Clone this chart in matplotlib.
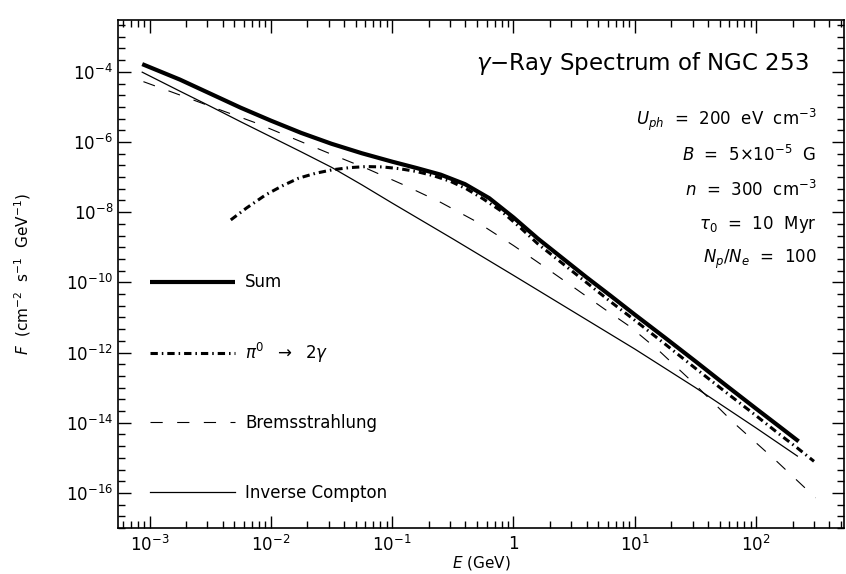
import numpy as np
import matplotlib
matplotlib.use("Agg")
from matplotlib import pyplot as plt
from matplotlib import transforms
from matplotlib.legend import Legend
from matplotlib.ticker import FixedLocator, NullFormatter

plt.rcParams['font.family'] = ['DejaVu Sans']
plt.rcParams['mathtext.fontset'] = 'dejavusans'

# curves, log10(E/GeV) and log10(F)
SUM_LOGE = [-3.06, -2.75, -2.5, -2.25, -2.0, -1.75, -1.5, -1.25, -1.0, -0.8, -0.6, -0.4,
            -0.2, 0.0, 0.2, 0.4, 0.6, 0.8, 1.0, 1.25, 1.5, 1.75, 2.0, 2.2, 2.35]
SUM_LOGF = [-3.78, -4.22, -4.62, -5.02, -5.39, -5.74, -6.05, -6.32, -6.56, -6.74, -6.93, -7.2,
            -7.6, -8.15, -8.75, -9.3, -9.85, -10.38, -10.92, -11.58, -12.25, -12.93, -13.6, -14.13, -14.53]

PI0_LOGE = [-2.33, -2.2, -2.04, -1.9, -1.77, -1.63, -1.49, -1.35, -1.215, -1.08, -0.94, -0.8,
            -0.66, -0.52, -0.39, -0.25, -0.1, 0.05, 0.2, 0.4, 0.6, 0.8, 1.0, 1.25, 1.5, 1.75,
            2.0, 2.2, 2.34, 2.477]
PI0_LOGF = [-8.22, -7.88, -7.50, -7.24, -7.03, -6.89, -6.79, -6.73, -6.70, -6.71, -6.76, -6.84,
            -6.96, -7.12, -7.33, -7.62, -7.97, -8.42, -8.9, -9.45, -10.0, -10.55, -11.08, -11.76,
            -12.45, -13.13, -13.8, -14.35, -14.72, -15.1]

BREMS_LOGE = [-3.05, -2.75, -2.5, -2.12, -1.8, -1.5, -1.2, -0.9, -0.6, -0.3, 0.0, 0.19,
              0.5, 0.75, 0.96, 1.2, 1.485, 1.815, 2.17, 2.49]
BREMS_LOGF = [-4.28, -4.66, -4.98, -5.46, -5.92, -6.35, -6.77, -7.23, -7.72, -8.28, -8.95, -9.40,
              -10.15, -10.76, -11.26, -11.95, -12.87, -14.0, -15.10, -16.14]

IC_LOGE = [-3.06, -2.75, -2.5, -2.25, -2.0, -1.75, -1.5, -1.25, -1.0, -0.5, 0.0, 0.5,
           1.0, 1.5, 2.0, 2.34]
IC_LOGF = [-4.01, -4.55, -4.98, -5.42, -5.85, -6.28, -6.72, -7.22, -7.74, -8.76, -9.8, -10.85,
           -11.9, -13.0, -14.15, -14.95]

XTICKS = [1e-3, 1e-2, 1e-1, 1, 10, 100]
XLABELS = [r"$10^{-3}$", r"$10^{-2}$", r"$10^{-1}$", "1", r"$10^{1}$", r"$10^{2}$"]
YTICKS = [1e-4, 1e-6, 1e-8, 1e-10, 1e-12, 1e-14, 1e-16]
YLABELS = [r"$10^{-4}$", r"$10^{-6}$", r"$10^{-8}$", r"$10^{-10}$",
           r"$10^{-12}$", r"$10^{-14}$", r"$10^{-16}$"]

PARAMS = [r"$U_{ph}$  =  200  eV  cm$^{-3}$",
          r"$B$  =  5$\times$10$^{-5}$  G",
          r"$n$  =  300  cm$^{-3}$",
          r"$\tau_0$  =  10  Myr",
          r"$N_p/N_e$  =  100"]

LEGEND_LABELS = ["Sum", r"$\pi^0$  $\rightarrow$  2$\gamma$", "Bremsstrahlung", "Inverse Compton"]
LEGEND_ROWS = [1e-10, 1e-12, 1e-14, 1e-16]

fig = plt.figure(figsize=(8.46, 5.74), dpi=100)
ax = fig.add_axes([118 / 846, 1 - 528 / 574, 726 / 846, 508 / 574])


def pw(le, lf):
    return 10.0 ** np.array(le), 10.0 ** np.array(lf)


lines = []
x, y = pw(SUM_LOGE, SUM_LOGF)
lines += ax.plot(x, y, color="black", lw=3.0, solid_capstyle="butt")
x, y = pw(PI0_LOGE, PI0_LOGF)
lines += ax.plot(x, y, color="black", lw=2.2, dashes=(2.4, 1.3, 0.5, 1.3))
x, y = pw(BREMS_LOGE, BREMS_LOGF)
lines += ax.plot(x, y, color="black", lw=0.8, dashes=(11, 13))
x, y = pw(IC_LOGE, IC_LOGF)
lines += ax.plot(x, y, color="black", lw=0.9)

ax.set_xscale("log")
ax.set_yscale("log")
ax.set_xlim(5.5e-4, 5.3e2)
ax.set_ylim(1e-17, 3.0e-3)

ax.xaxis.set_major_locator(FixedLocator(XTICKS))
ax.set_xticklabels(XLABELS)
ax.yaxis.set_major_locator(FixedLocator(YTICKS))
ax.set_yticklabels(YLABELS)
ax.xaxis.set_minor_locator(FixedLocator(
    [m * 10.0 ** d for d in range(-4, 3) for m in range(2, 10)]))
ax.yaxis.set_minor_locator(FixedLocator(10.0 ** np.arange(-17, -2.4, 1 / 3)))
ax.xaxis.set_minor_formatter(NullFormatter())
ax.yaxis.set_minor_formatter(NullFormatter())
ax.tick_params(which="both", direction="in", top=True, right=True, labelsize=12, color="black")
ax.tick_params(which="major", length=9, width=1)
ax.tick_params(which="minor", length=5, width=1)
ax.tick_params(axis="x", pad=5)
for s in ax.spines.values():
    s.set_linewidth(1.2)

ax.set_xlabel(r"$E$ (GeV)", fontsize=11, labelpad=-1)
ax.set_ylabel(r"$F$  (cm$^{-2}$  s$^{-1}$  GeV$^{-1}$)", fontsize=11, labelpad=24)

ax.text(0.952, 0.914, r"$\gamma$$-$Ray Spectrum of NGC 253", transform=ax.transAxes,
        ha="right", va="center", fontsize=16.5)
for i, p in enumerate(PARAMS):
    ax.text(0.962, 0.804 - i * 0.069, p, transform=ax.transAxes,
            ha="right", va="center", fontsize=12)

# one legend per row, rows sit on the labelled decades like the original
trans = transforms.blended_transform_factory(ax.transAxes, ax.transData)
for ln, lab, row in zip(lines, LEGEND_LABELS, LEGEND_ROWS):
    leg = Legend(ax, [ln], [lab], loc="center left", bbox_to_anchor=(0.044, row),
                 bbox_transform=trans, frameon=False, fontsize=12,
                 handlelength=5.1, handletextpad=0.6, borderpad=0, borderaxespad=0)
    ax.add_artist(leg)

fig.savefig("out.png", dpi=100)
